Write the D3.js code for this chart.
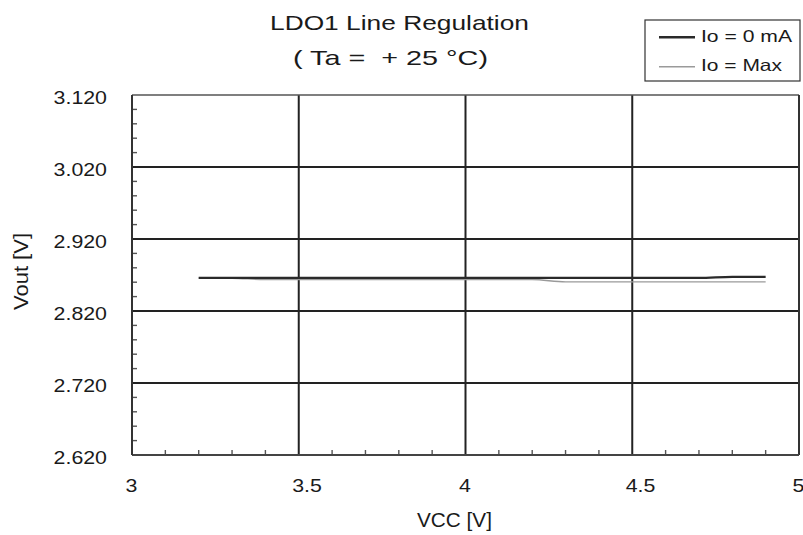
<!DOCTYPE html>
<html><head><meta charset="utf-8">
<script src="https://cdn.jsdelivr.net/npm/d3@7"></script>
<style>body{margin:0;background:#fff}svg{display:block}text{font-family:"Liberation Sans",Arial,sans-serif;fill:#1a1a1a;white-space:pre}</style>
</head><body><svg id="c" width="803" height="535"></svg>
<script>
const vcc = [3.2,3.3,3.4,3.5,3.6,3.7,3.8,3.9,4.0,4.1,4.2,4.3,4.4,4.5,4.6,4.7,4.8,4.9];
const io0 = [2.866,2.866,2.866,2.866,2.866,2.866,2.866,2.866,2.866,2.866,2.866,2.866,2.866,2.866,2.866,2.866,2.8675,2.8675];
const ioMax = [2.8658,2.8655,2.8637,2.8637,2.8637,2.8637,2.8637,2.8637,2.8637,2.8637,2.8637,2.8605,2.8605,2.8605,2.8605,2.8605,2.8605,2.8605];
const xTicks = [3,3.5,4,4.5,5];
const yTicks = [2.62,2.72,2.82,2.92,3.02,3.12];
const seriesNames = ["Io = 0 mA","Io = Max"];

const svg = d3.select("#c");
const L=132,R=799,T=95,B=455;
const x = d3.scaleLinear().domain([3,5]).range([L,R]);
const y = d3.scaleLinear().domain([2.62,3.12]).range([B,T]);
const SX = 1.22; // horizontal stretch of the reference lettering

function stext(g, px, py, str, size, anchor){
  return g.append("text").attr("transform",`translate(${px},${py}) scale(${SX},1)`)
    .attr("text-anchor",anchor||"start").attr("font-size",size).text(str);
}

// minor ticks
const xMinor = d3.range(3,5.0001,0.1).filter(v=>Math.abs(v*2-Math.round(v*2))>1e-6);
const yMinor = d3.range(2.62,3.12,0.02).filter((v,i)=>i%5!==0);
svg.append("g").selectAll("line").data(xMinor).join("line")
  .attr("x1",d=>x(d)).attr("x2",d=>x(d)).attr("y1",B).attr("y2",B-5)
  .attr("stroke","#555").attr("stroke-width",1.4);
svg.append("g").selectAll("line").data(yMinor).join("line")
  .attr("x1",L).attr("x2",L+5).attr("y1",d=>y(d)).attr("y2",d=>y(d))
  .attr("stroke","#555").attr("stroke-width",1.4);

// grid
svg.append("g").selectAll("line").data(xTicks.slice(1,-1)).join("line")
  .attr("x1",d=>x(d)).attr("x2",d=>x(d)).attr("y1",T).attr("y2",B)
  .attr("stroke","#222").attr("stroke-width",2);
svg.append("g").selectAll("line").data(yTicks.slice(1,-1)).join("line")
  .attr("x1",L).attr("x2",R).attr("y1",d=>y(d)).attr("y2",d=>y(d))
  .attr("stroke","#222").attr("stroke-width",2);
// frame
svg.append("line").attr("x1",L).attr("x2",R).attr("y1",T).attr("y2",T).attr("stroke","#555").attr("stroke-width",1.6);
svg.append("line").attr("x1",R).attr("x2",R).attr("y1",T).attr("y2",B).attr("stroke","#333").attr("stroke-width",2);
svg.append("line").attr("x1",L).attr("x2",R).attr("y1",B).attr("y2",B).attr("stroke","#444").attr("stroke-width",2);
svg.append("line").attr("x1",L).attr("x2",L).attr("y1",T).attr("y2",B).attr("stroke","#333").attr("stroke-width",2);

// tick labels
const gx = svg.append("g");
xTicks.forEach(d=>stext(gx, x(d)-6.5, 491.5, d3.format("")(d), 17.5, "start"));
const gy = svg.append("g");
const fy = d3.format(".3f");
yTicks.forEach(d=>stext(gy, 107, y(d)+8.7, fy(d), 17.5, "end"));

// lines
const line = d3.line().x((d,i)=>x(vcc[i])).y(d=>y(d)).curve(d3.curveMonotoneX);
svg.append("path").datum(ioMax).attr("d",line).attr("fill","none").attr("stroke","#9a9a9a").attr("stroke-width",1.4);
svg.append("path").datum(io0).attr("d",line).attr("fill","none").attr("stroke","#2a2a2a").attr("stroke-width",2.2);

// titles
svg.append("text").attr("x",270).attr("y",30).attr("font-size",21)
  .attr("textLength",259).attr("lengthAdjust","spacingAndGlyphs").text("LDO1 Line Regulation");
svg.append("text").attr("x",293).attr("y",65).attr("font-size",21)
  .attr("textLength",195).attr("lengthAdjust","spacingAndGlyphs").text("( Ta =  + 25 °C)");
svg.append("text").attr("x",417).attr("y",526.5).attr("font-size",21)
  .attr("textLength",75).attr("lengthAdjust","spacingAndGlyphs").text("VCC [V]");
svg.append("text").attr("transform","translate(28,310) rotate(-90)").attr("font-size",21)
  .attr("textLength",77).attr("lengthAdjust","spacingAndGlyphs").text("Vout [V]");

// legend
const lg = svg.append("g");
lg.append("rect").attr("x",645).attr("y",20).attr("width",155).attr("height",61).attr("fill","#fff").attr("stroke","#333").attr("stroke-width",1.2);
const lcol=["#2a2a2a","#9a9a9a"], lw=[2.6,1.4], tl=[91,81];
seriesNames.forEach((n,i)=>{
  const yy = 37.3+i*29.4;
  lg.append("line").attr("x1",659).attr("x2",695).attr("y1",yy).attr("y2",yy).attr("stroke",lcol[i]).attr("stroke-width",lw[i]);
  lg.append("text").attr("x",701).attr("y",yy+4.6).attr("font-size",16.5)
    .attr("textLength",tl[i]).attr("lengthAdjust","spacingAndGlyphs").text(n);
});
</script></body></html>
